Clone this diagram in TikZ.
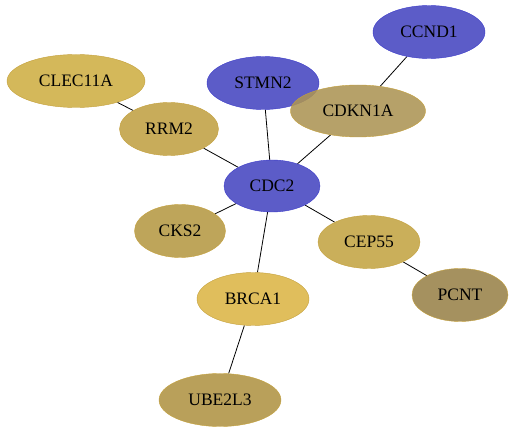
\documentclass[tikz,border=0pt]{standalone}
\usepackage{fontspec}
\setmainfont{Liberation Serif}
\usetikzlibrary{shapes.geometric,backgrounds}
\definecolor{blueFill}{RGB}{92,92,200}
\definecolor{blueLine}{RGB}{58,58,200}
\definecolor{goldLine}{RGB}{196,160,60}
\tikzset{
  gene/.style={ellipse,draw=goldLine,thin,inner sep=0pt,minimum height=53pt,font=\fontsize{17.5}{20}\selectfont},
  hub/.style={gene,draw=blueLine,fill=blueFill},
  link/.style={black,line width=0.8pt}
}
\begin{document}
\begin{tikzpicture}[x=1pt,y=-1pt]
\useasboundingbox (0,0) rectangle (515,433);
\node[hub,minimum width=112pt] (CCND1) at (429,32) {CCND1};
\node[gene,minimum width=138pt,fill={rgb,255:red,212;green,184;blue,90}] (CLEC11A) at (76,81) {CLEC11A};
\node[hub,minimum width=112pt] (STMN2) at (263,83) {STMN2};
\node[gene,minimum width=135pt,minimum height=52pt,fill={rgb,255:red,172;green,148;blue,84},fill opacity=0.88,text opacity=1] (CDKN1A) at (358,111) {CDKN1A};
\node[gene,minimum width=99pt,fill={rgb,255:red,200;green,172;blue,90}] (RRM2) at (169,129) {RRM2};
\node[hub,minimum width=96pt,minimum height=52pt] (CDC2) at (272,186) {CDC2};
\node[gene,minimum width=91pt,fill={rgb,255:red,190;green,165;blue,90}] (CKS2) at (180,231) {CKS2};
\node[gene,minimum width=102pt,fill={rgb,255:red,202;green,175;blue,90}] (CEP55) at (369,242) {CEP55};
\node[gene,minimum width=112pt,fill={rgb,255:red,224;green,190;blue,92}] (BRCA1) at (253,299) {BRCA1};
\node[gene,minimum width=96pt,fill={rgb,255:red,165;green,145;blue,95}] (PCNT) at (460,295) {PCNT};
\node[gene,minimum width=122pt,fill={rgb,255:red,185;green,160;blue,90}] (UBE2L3) at (220,400) {UBE2L3};

\begin{scope}[on background layer]
\draw[link] (CLEC11A) -- (RRM2);
\draw[link] (RRM2) -- (CDC2);
\draw[link] (STMN2) -- (CDC2);
\draw[link] (CDKN1A) -- (CDC2);
\draw[link] (CCND1) -- (CDKN1A);
\draw[link] (CKS2) -- (CDC2);
\draw[link] (CEP55) -- (CDC2);
\draw[link] (BRCA1) -- (CDC2);
\draw[link] (CEP55) -- (PCNT);
\draw[link] (BRCA1) -- (UBE2L3);
\end{scope}
\end{tikzpicture}
\end{document}
